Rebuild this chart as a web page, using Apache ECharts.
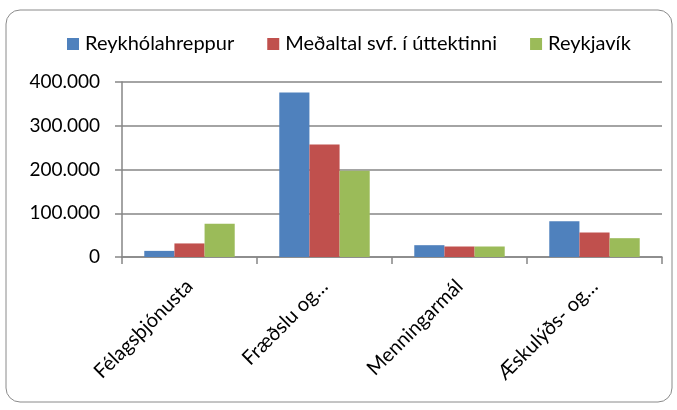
<!DOCTYPE html>
<html>
<head>
<meta charset="utf-8">
<script src="https://cdn.jsdelivr.net/npm/echarts@6/dist/echarts.min.js"></script>
<style>
  html, body { margin: 0; padding: 0; background: #fff; }
  #chart { width: 677px; height: 410px; }
</style>
</head>
<body>
<div id="chart"></div>
<script>
const categories = ['Félagsþjónusta', 'Fræðslu og…', 'Menningarmál', 'Æskulýðs- og…']
const reykholahreppur = [14000, 376000, 27000, 82000]
const medaltal = [31000, 257000, 24000, 56000]
const reykjavik = [76000, 197000, 24000, 43000]
const seriesNames = ['Reykhólahreppur', 'Meðaltal svf. í úttektinni', 'Reykjavík']
const colors = ['#4f81bd', '#c0504d', '#9bbb59']

const font = 'Lato'
const chart = echarts.init(document.getElementById('chart'))

function barSeries(name, data) {
  return {
    name: name,
    type: 'bar',
    data: data,
    barGap: 0,
    barCategoryGap: '33%',
    animation: false
  }
}

chart.setOption({
  color: colors,
  textStyle: { fontFamily: font },
  graphic: [{
    type: 'rect',
    shape: { x: 6, y: 10, width: 666, height: 392, r: 14 },
    style: { fill: 'none', stroke: '#8a8a8a', lineWidth: 1 },
    silent: true
  }],
  legend: {
    top: 29,
    left: 62,
    itemWidth: 12,
    itemHeight: 12,
    itemGap: 33,
    icon: 'rect',
    textStyle: { fontSize: 20, color: '#000', fontFamily: font, padding: [0, 0, 0, 1] },
    data: seriesNames
  },
  grid: {
    left: 122,
    right: 15,
    top: 82,
    bottom: 153
  },
  xAxis: {
    type: 'category',
    data: categories,
    axisLine: { lineStyle: { color: '#868686', width: 1.5 } },
    axisTick: { show: true, length: 7, lineStyle: { color: '#868686', width: 1.5 } },
    axisLabel: {
      rotate: 45,
      interval: 0,
      margin: 26,
      fontSize: 20,
      color: '#000',
      fontFamily: font
    }
  },
  yAxis: {
    type: 'value',
    min: 0,
    max: 400000,
    interval: 100000,
    axisLine: { show: true, lineStyle: { color: '#868686', width: 1.5 } },
    axisTick: { show: true, length: 7, lineStyle: { color: '#868686', width: 1.5 } },
    splitLine: { lineStyle: { color: '#868686', width: 1.5 } },
    axisLabel: {
      margin: 22,
      fontSize: 19,
      color: '#000',
      fontFamily: font,
      formatter: v => v === 0 ? '0' : (v / 1000) + '.000'
    }
  },
  series: [
    barSeries(seriesNames[0], reykholahreppur),
    barSeries(seriesNames[1], medaltal),
    barSeries(seriesNames[2], reykjavik)
  ]
})
</script>
</body>
</html>
